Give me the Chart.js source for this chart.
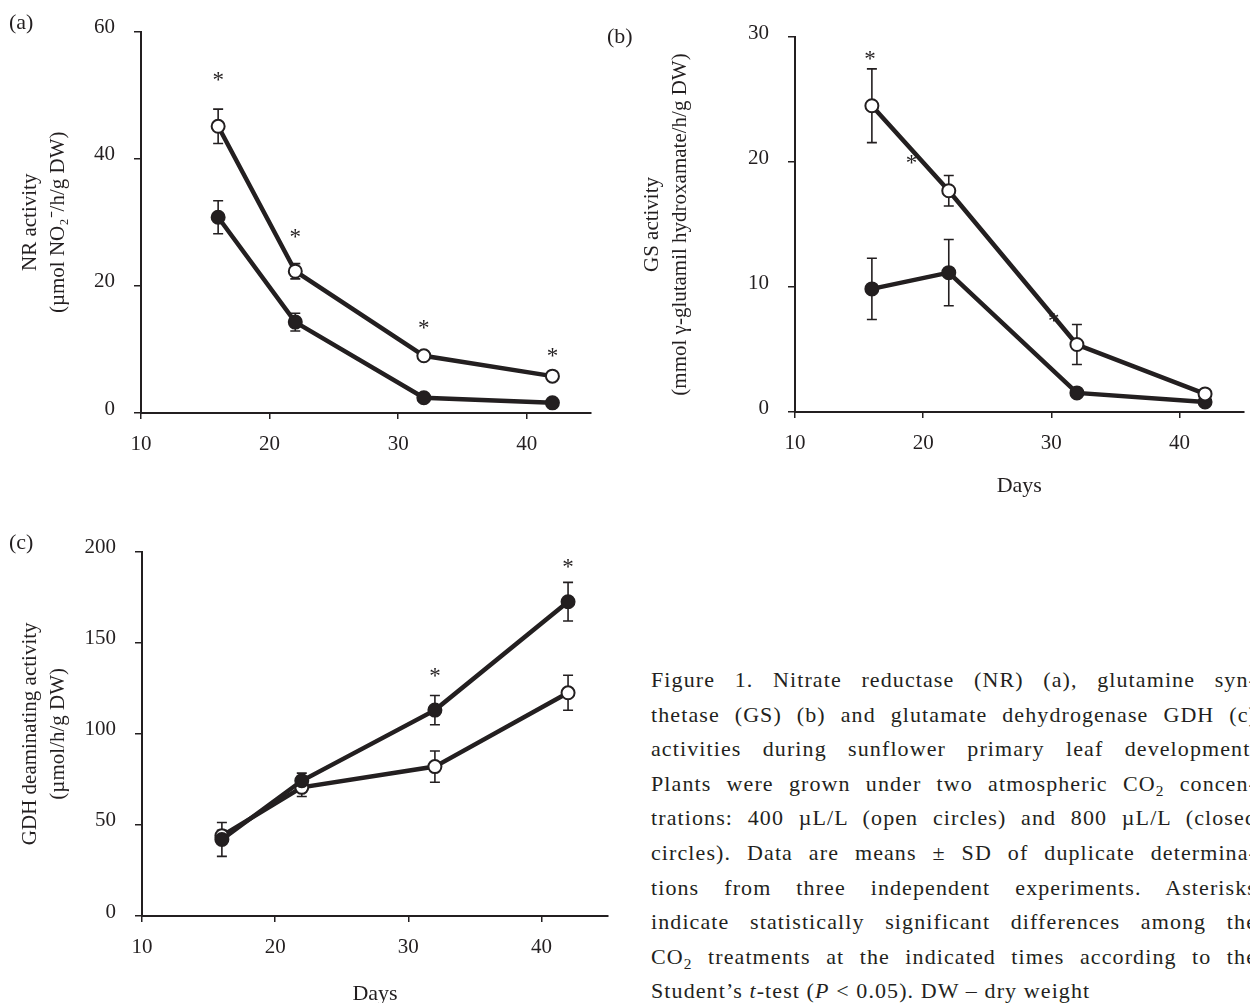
<!DOCTYPE html>
<html>
<head>
<meta charset="utf-8">
<script src="https://cdn.jsdelivr.net/npm/chart.js@4.4.0/dist/chart.umd.min.js"></script>
<style>
    body {
        margin: 0;
        width: 1250px;
        height: 1003px;
        overflow: hidden;
        position: relative;
        background: #fff;
        color: #231f20;
        font-family: "Liberation Serif", serif;
    }
    canvas { position: absolute; }
    .etiqueta { position: absolute; font-size: 22px; }
    .leyenda {
        position: absolute;
        left: 651px;
        top: 663px;
        font-size: 22px;
        letter-spacing: 1.1px;
        line-height: 34.6px;
    }
    .leyenda div {
        width: 606px;
        white-space: nowrap;
        text-align: justify;
        text-align-last: justify;
    }
    .leyenda div.ultima { text-align-last: left; }
    sub { font-size: 0.7em; vertical-align: -0.3em; line-height: 0; }
</style>
</head>
<body>

<canvas id="nrChart" width="610" height="470" style="left:0;top:0"></canvas>
<canvas id="gsChart" width="652" height="510" style="left:600px;top:0"></canvas>
<canvas id="gdhChart" width="625" height="500" style="left:0;top:520px"></canvas>

<div class="etiqueta" style="left:9px;top:9px">(a)</div>
<div class="etiqueta" style="left:607px;top:23px">(b)</div>
<div class="etiqueta" style="left:9px;top:529px">(c)</div>

<div class="leyenda">
    <div>Figure 1. Nitrate reductase (NR) (a), glutamine syn-</div>
    <div>thetase (GS) (b) and glutamate dehydrogenase GDH (c)</div>
    <div>activities during sunflower primary leaf development.</div>
    <div>Plants were grown under two atmospheric CO<sub>2</sub> concen-</div>
    <div>trations: 400 µL/L (open circles) and 800 µL/L (closed</div>
    <div>circles). Data are means ± SD of duplicate determina-</div>
    <div>tions from three independent experiments. Asterisks</div>
    <div>indicate statistically significant differences among the</div>
    <div>CO<sub>2</sub> treatments at the indicated times according to the</div>
    <div class="ultima">Student’s <i>t</i>-test (<i>P</i> &lt; 0.05). DW – dry weight</div>
</div>

<script>
// ===============================
// DATOS
// ===============================
const dias = [16, 22, 32, 42];

// (a) NR
const nrAbierto = [45.1, 22.3, 9.0, 5.8];
const nrAbiertoSD = [2.7, 1.2, 0, 0];
const nrCerrado = [30.8, 14.3, 2.4, 1.6];
const nrCerradoSD = [2.6, 1.4, 0, 0];
const nrAsteriscoX = [16, 22, 32, 42];
const nrAsteriscoY = [52.5, 27.9, 13.6, 9.2];

// (b) GS
const gsAbierto = [24.5, 17.7, 5.4, 1.45];
const gsAbiertoSD = [2.95, 1.22, 1.6, 0.3];
const gsCerrado = [9.85, 11.15, 1.53, 0.8];
const gsCerradoSD = [2.45, 2.65, 0.2, 0];
const gsAsteriscoX = [15.85, 19.1, 30.2];
const gsAsteriscoY = [28.3, 20.0, 7.4];

// (c) GDH
const gdhAbierto = [44, 70.6, 82, 122.5];
const gdhAbiertoSD = [3, 5, 8.6, 9.6];
const gdhCerrado = [42, 74.2, 113, 172.5];
const gdhCerradoSD = [9.3, 4.2, 8, 10.6];
const gdhAsteriscoX = [32, 42];
const gdhAsteriscoY = [132, 192];

const TINTA = "#231f20";
const FUENTE = "Liberation Serif";

// ===============================
// BARRAS DE ERROR Y ASTERISCOS
// ===============================
const errorBars = {
    id: "errorBars",
    beforeDatasetsDraw(chart, args, opts) {
        const {ctx, scales: {x, y}} = chart;
        ctx.save();
        ctx.strokeStyle = TINTA;
        ctx.lineWidth = 1.6;
        chart.data.datasets.forEach(ds => {
            ds.data.forEach((p, i) => {
                const s = ds.sd[i];
                if (!s) return;
                const px = x.getPixelForValue(p.x);
                const arriba = y.getPixelForValue(p.y + s);
                const abajo = y.getPixelForValue(p.y - s);
                ctx.beginPath();
                ctx.moveTo(px, arriba); ctx.lineTo(px, abajo);
                ctx.moveTo(px - 5, arriba); ctx.lineTo(px + 5, arriba);
                ctx.moveTo(px - 5, abajo); ctx.lineTo(px + 5, abajo);
                ctx.stroke();
            });
        });

        ctx.fillStyle = TINTA;
        ctx.font = "23px '" + FUENTE + "'";
        ctx.textAlign = "center";
        ctx.textBaseline = "alphabetic";
        opts.x.forEach((v, i) => {
            ctx.fillText("*", x.getPixelForValue(v), y.getPixelForValue(opts.y[i]) + 8);
        });
        ctx.restore();
    }
};

function serie(valores, sd, relleno) {
    return {
        data: dias.map((d, i) => ({x: d, y: valores[i]})),
        sd: sd,
        borderColor: TINTA,
        borderWidth: 4.5,
        pointRadius: 6.5,
        pointHoverRadius: 6.5,
        pointBorderWidth: 2,
        pointBorderColor: TINTA,
        pointBackgroundColor: relleno ? TINTA : "#fff",
        tension: 0,
        fill: false
    };
}

function crearPanel(id, c) {
    const fuente = {family: FUENTE, size: 21};
    return new Chart(document.getElementById(id), {
        type: "line",
        data: {datasets: c.series},
        options: {
            responsive: false,
            animation: false,
            layout: {padding: {left: 0, top: c.padTop, right: c.padRight, bottom: 0}},
            plugins: {
                legend: {display: false},
                tooltip: {enabled: false},
                errorBars: {x: c.asteriscoX, y: c.asteriscoY}
            },
            scales: {
                x: {
                    type: "linear",
                    min: 10,
                    max: 45,
                    afterBuildTicks: s => { s.ticks = s.ticks.filter(t => t.value % 10 === 0); },
                    afterFit: s => { s.height = c.altoX; },
                    border: {color: TINTA, width: 2},
                    grid: {drawOnChartArea: false, tickLength: 6, color: TINTA, lineWidth: 1.5},
                    ticks: {stepSize: 10, padding: 13, color: TINTA, font: fuente},
                    title: {
                        display: !!c.tituloX,
                        text: c.tituloX || "",
                        color: TINTA,
                        font: {family: FUENTE, size: 22},
                        padding: {top: 0, bottom: c.padTituloX || 0}
                    }
                },
                y: {
                    min: 0,
                    max: c.yMax,
                    afterFit: s => { s.width = c.anchoY; },
                    border: {color: TINTA, width: 2},
                    grid: {drawOnChartArea: false, tickLength: 7, color: TINTA, lineWidth: 1.5},
                    ticks: {stepSize: c.yPaso, padding: 19, labelOffset: -4, color: TINTA, font: fuente},
                    title: {
                        display: true,
                        text: c.tituloY,
                        color: TINTA,
                        font: {family: FUENTE, size: 21, lineHeight: 1.35},
                        padding: {top: c.padTituloY, bottom: 0}
                    }
                }
            }
        },
        plugins: [errorBars]
    });
}

// ===============================
// PANELES
// ===============================
crearPanel("nrChart", {
    series: [serie(nrAbierto, nrAbiertoSD, false), serie(nrCerrado, nrCerradoSD, true)],
    yMax: 60, yPaso: 20,
    tituloY: ["NR activity", "(µmol NO₂⁻/h/g DW)"],
    asteriscoX: nrAsteriscoX, asteriscoY: nrAsteriscoY,
    padTop: 26, padRight: 19, anchoY: 141, altoX: 57, padTituloY: 16
});

crearPanel("gsChart", {
    series: [serie(gsAbierto, gsAbiertoSD, false), serie(gsCerrado, gsCerradoSD, true)],
    yMax: 30, yPaso: 10,
    tituloY: ["GS activity", "(mmol γ-glutamil hydroxamate/h/g DW)"],
    tituloX: "Days", padTituloX: 11,
    asteriscoX: gsAsteriscoX, asteriscoY: gsAsteriscoY,
    padTop: 37, padRight: 1, anchoY: 195, altoX: 98, padTituloY: 38
});

crearPanel("gdhChart", {
    series: [serie(gdhCerrado, gdhCerradoSD, true), serie(gdhAbierto, gdhAbiertoSD, false)],
    yMax: 200, yPaso: 50,
    tituloY: ["GDH deaminating activity", "(µmol/h/g DW)"],
    tituloX: "Days", padTituloX: 13,
    asteriscoX: gdhAsteriscoX, asteriscoY: gdhAsteriscoY,
    padTop: 27, padRight: 17, anchoY: 142, altoX: 104, padTituloY: 16
});
</script>
</body>
</html>
